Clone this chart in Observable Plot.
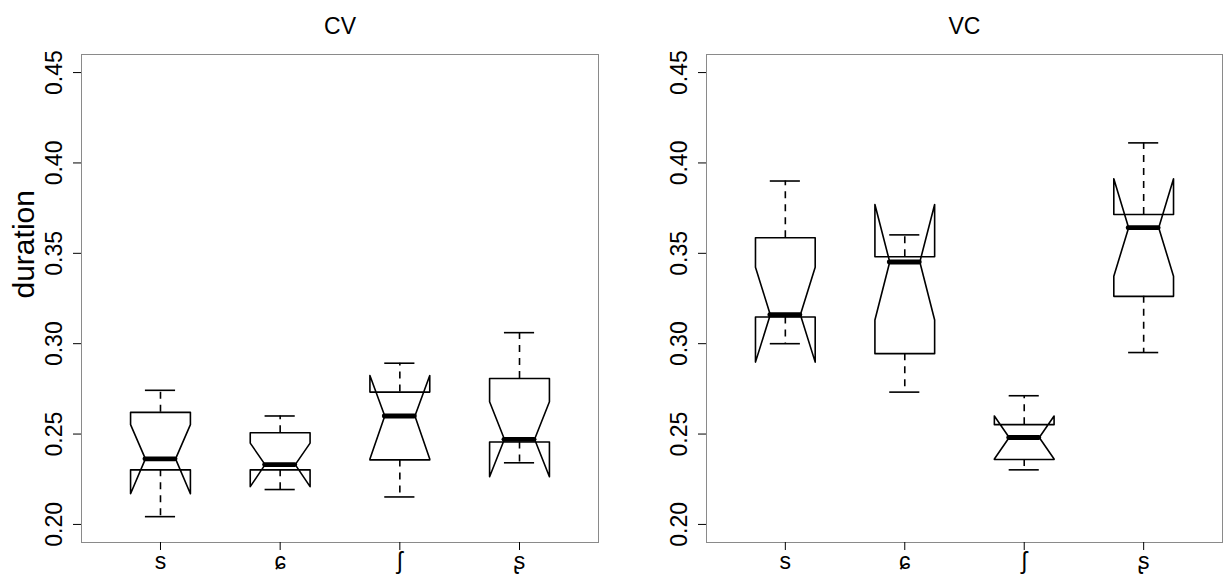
<!DOCTYPE html>
<html>
<head>
<meta charset="utf-8">
<script src="https://cdn.jsdelivr.net/npm/d3@7"></script>
<script src="https://cdn.jsdelivr.net/npm/@observablehq/plot@0.6"></script>
<style>
  body { margin: 0; background: #fff; }
  #wrap { display: flex; width: 1226px; height: 575px; overflow: hidden; }
</style>
</head>
<body>
<div id="wrap"></div>
<script>
// ---- data ----
const categories = ["s", "ɕ", "ʃ", "ʂ"];
const yTicks = [0.20, 0.25, 0.30, 0.35, 0.40, 0.45];
const panelTitles = ["CV", "VC"];
const yAxisLabel = "duration";

// CV panel statistics
const cvWhiskerLow  = [0.2043, 0.2193, 0.2152, 0.2341];
const cvBoxLow      = [0.2302, 0.2302, 0.2357, 0.2456];
const cvNotchLow    = [0.2170, 0.2209, 0.2362, 0.2264];
const cvMedian      = [0.2363, 0.2331, 0.2600, 0.2471];
const cvNotchHigh   = [0.2552, 0.2450, 0.2824, 0.2679];
const cvBoxHigh     = [0.2620, 0.2507, 0.2732, 0.2807];
const cvWhiskerHigh = [0.2742, 0.2600, 0.2892, 0.3061];

// VC panel statistics
const vcWhiskerLow  = [0.3000, 0.2732, 0.2302, 0.2951];
const vcBoxLow      = [0.3148, 0.2945, 0.2359, 0.3262];
const vcNotchLow    = [0.2898, 0.3131, 0.2362, 0.3373];
const vcMedian      = [0.3160, 0.3452, 0.2481, 0.3642];
const vcNotchHigh   = [0.3423, 0.3770, 0.2600, 0.3912];
const vcBoxHigh     = [0.3586, 0.3481, 0.2552, 0.3715];
const vcWhiskerHigh = [0.3900, 0.3602, 0.2712, 0.4111];

// ---- style constants ----
const BOX = 0.25, NOTCH = 0.126, STAPLE = 0.126;
const LW = 1.6;
const FONT = "'Liberation Sans', Arial, Helvetica, 'DejaVu Sans', sans-serif";

function panel(title, s, marginLeft, marginRight, showYLabel) {
  const rows = categories.map((c, i) => ({
    cat: c, p: i + 1,
    wl: s.whiskerLow[i], bl: s.boxLow[i], nl: s.notchLow[i], med: s.median[i],
    nh: s.notchHigh[i], bh: s.boxHigh[i], wh: s.whiskerHigh[i]
  }));
  const poly = [];
  rows.forEach(r => {
    const p = r.p;
    [[p - BOX, r.bl], [p - BOX, r.nl], [p - NOTCH, r.med], [p - BOX, r.nh], [p - BOX, r.bh],
     [p + BOX, r.bh], [p + BOX, r.nh], [p + NOTCH, r.med], [p + BOX, r.nl], [p + BOX, r.bl]]
      .forEach(([x, y]) => poly.push({cat: r.cat, x, y}));
  });
  const marks = [
    Plot.frame({stroke: "#8a8a8a"}),
    Plot.axisY({ticks: yTicks, tickFormat: d3.format(".2f"), tickRotate: -90, tickSize: 8, tickPadding: 12, label: null, line: true, fontSize: 23}),
    Plot.axisX({ticks: [1, 2, 3, 4], tickFormat: d => categories[d - 1], tickSize: 8, tickPadding: 2, label: null, line: true, fontSize: 23}),
    Plot.ruleX(rows, {x: "p", y1: "bh", y2: "wh", strokeDasharray: "7,6", strokeWidth: LW}),
    Plot.ruleX(rows, {x: "p", y1: "bl", y2: "wl", strokeDasharray: "7,6", strokeWidth: LW}),
    Plot.ruleY(rows, {y: "wh", x1: d => d.p - STAPLE, x2: d => d.p + STAPLE, strokeWidth: LW}),
    Plot.ruleY(rows, {y: "wl", x1: d => d.p - STAPLE, x2: d => d.p + STAPLE, strokeWidth: LW}),
    Plot.line(poly, {x: "x", y: "y", z: "cat", curve: "linear-closed", strokeWidth: LW, stroke: "black"}),
    Plot.ruleY(rows, {y: "med", x1: d => d.p - NOTCH, x2: d => d.p + NOTCH, strokeWidth: 4.8, strokeLinecap: "round"}),
    Plot.text([title], {frameAnchor: "top", dy: -21, lineAnchor: "bottom", fontSize: 23})
  ];
  if (showYLabel) {
    marks.push(Plot.text([yAxisLabel], {frameAnchor: "left", rotate: -90, dx: -48, lineAnchor: "bottom", fontSize: 30}));
  }
  return Plot.plot({
    width: 613, height: 575,
    marginLeft, marginRight, marginTop: 54, marginBottom: 33,
    x: {domain: [0.34, 4.66]},
    y: {domain: [0.19, 0.46]},
    style: {fontFamily: FONT, fontSize: "23px", background: "white", color: "black", overflow: "visible"},
    marks
  });
}

const wrap = document.getElementById("wrap");
wrap.appendChild(panel(panelTitles[0], {
  whiskerLow: cvWhiskerLow, boxLow: cvBoxLow, notchLow: cvNotchLow, median: cvMedian,
  notchHigh: cvNotchHigh, boxHigh: cvBoxHigh, whiskerHigh: cvWhiskerHigh
}, 81, 15, true));
wrap.appendChild(panel(panelTitles[1], {
  whiskerLow: vcWhiskerLow, boxLow: vcBoxLow, notchLow: vcNotchLow, median: vcMedian,
  notchHigh: vcNotchHigh, boxHigh: vcBoxHigh, whiskerHigh: vcWhiskerHigh
}, 93, 4, false));
</script>
</body>
</html>
